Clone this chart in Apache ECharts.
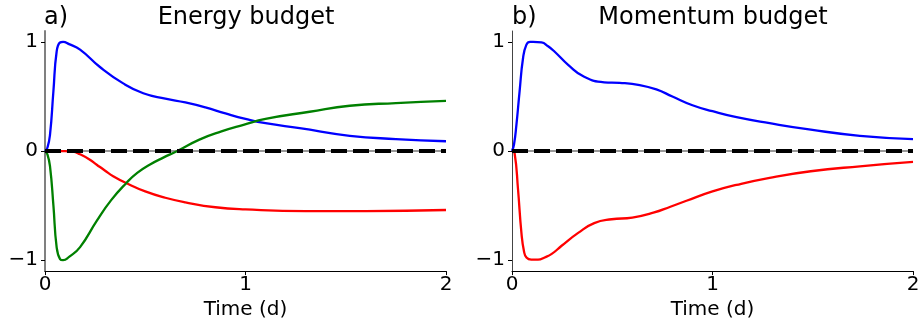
<!DOCTYPE html>
<html>
<head>
<meta charset="utf-8">
<script src="https://cdn.jsdelivr.net/npm/echarts@6/dist/echarts.min.js"></script>
<style>
  html, body { margin: 0; padding: 0; background: #fff; }
  #chart { width: 923px; height: 325px; }
</style>
</head>
<body>
<div id="chart"></div>
<script>
// Panel a) Energy budget — time in days, normalised terms
const energyBlueT  = [0, 0.012, 0.025, 0.042, 0.058, 0.075, 0.09, 0.12, 0.175, 0.274, 0.39, 0.49, 0.6, 0.7, 0.8, 0.9, 1.0, 1.1, 1.27, 1.52, 1.75, 2.0];
const energyBlueV  = [0, 0.03, 0.15, 0.55, 0.91, 0.995, 1.0, 0.98, 0.93, 0.77, 0.62, 0.53, 0.48, 0.445, 0.40, 0.345, 0.295, 0.255, 0.21, 0.14, 0.11, 0.09];
const energyRedT   = [0, 0.1, 0.14, 0.175, 0.22, 0.258, 0.3, 0.34, 0.407, 0.5, 0.6, 0.7, 0.85, 1.0, 1.3, 1.6, 2.0];
const energyRedV   = [0, 0, -0.005, -0.03, -0.075, -0.125, -0.18, -0.23, -0.295, -0.37, -0.428, -0.47, -0.515, -0.535, -0.55, -0.55, -0.54];
const energyGreenT = [0, 0.012, 0.025, 0.042, 0.058, 0.075, 0.09, 0.12, 0.175, 0.258, 0.33, 0.407, 0.46, 0.524, 0.59, 0.66, 0.77, 0.88, 0.99, 1.1, 1.32, 1.52, 1.75, 2.0];
const energyGreenV = [0, -0.03, -0.14, -0.5, -0.88, -0.99, -1.0, -0.97, -0.88, -0.64, -0.45, -0.29, -0.2, -0.123, -0.06, 0.0, 0.105, 0.18, 0.24, 0.295, 0.36, 0.415, 0.44, 0.46];

// Panel b) Momentum budget
const momBlueT = [0, 0.01, 0.022, 0.038, 0.055, 0.072, 0.09, 0.105, 0.147, 0.18, 0.213, 0.28, 0.36, 0.46, 0.537, 0.637, 0.72, 0.8, 0.9, 1.0, 1.12, 1.285, 1.49, 1.735, 2.0];
const momBlueV = [0, 0.06, 0.24, 0.55, 0.85, 0.975, 1.0, 1.0, 0.995, 0.96, 0.91, 0.79, 0.68, 0.63, 0.625, 0.605, 0.565, 0.50, 0.42, 0.365, 0.31, 0.255, 0.196, 0.14, 0.11];
const momRedT  = [0, 0.013, 0.03, 0.047, 0.06, 0.072, 0.096, 0.13, 0.163, 0.2, 0.246, 0.33, 0.41, 0.497, 0.6, 0.705, 0.79, 0.87, 1.0, 1.12, 1.285, 1.49, 1.735, 2.0];
const momRedV  = [0, -0.02, -0.35, -0.75, -0.92, -0.975, -0.995, -0.995, -0.975, -0.94, -0.87, -0.75, -0.66, -0.625, -0.61, -0.565, -0.51, -0.455, -0.37, -0.31, -0.245, -0.185, -0.14, -0.10];

// Zero reference line end points
const zeroT = [0, 2];
const zeroV = [0, 0];

const yTicks = [-1, 0, 1];
const xTicks = [0, 1, 2];

const FONT = 'DejaVu Sans';
const pairs = (t, v) => t.map((x, i) => [x, v[i]]);
const fmtY = v => (v < 0 ? '\u2212' + Math.abs(v) : String(v));

const chart = echarts.init(document.getElementById('chart'), null, { renderer: 'canvas' });

function xAxisFor(idx) {
  return {
    gridIndex: idx, type: 'value', min: xTicks[0], max: xTicks[xTicks.length - 1], interval: 1,
    axisLine: { show: true, onZero: false, lineStyle: { color: '#000', width: 1 } },
    axisTick: { show: true, length: 4, lineStyle: { color: '#000', width: 1 } },
    axisLabel: { fontFamily: FONT, fontSize: 20, color: '#000', margin: 4 },
    splitLine: { show: false },
    name: 'Time (d)', nameLocation: 'middle', nameGap: 24,
    nameTextStyle: { fontFamily: FONT, fontSize: 20, color: '#000' }
  };
}
function yAxisFor(idx, lineColor, lineWidth) {
  return {
    gridIndex: idx, type: 'value', min: -1.1, max: 1.1,
    axisLine: { show: true, onZero: false, lineStyle: { color: lineColor, width: lineWidth } },
    axisTick: { show: true, length: 4, customValues: yTicks, lineStyle: { color: '#000', width: 1 } },
    axisLabel: { fontFamily: FONT, fontSize: 20, color: '#000', margin: 7, customValues: yTicks, formatter: fmtY },
    splitLine: { show: false }
  };
}
function curve(idx, t, v, color) {
  return {
    type: 'line', xAxisIndex: idx, yAxisIndex: idx, data: pairs(t, v),
    showSymbol: false, smooth: 0.5,
    lineStyle: { color: color, width: 2.3 }, silent: true, animation: false
  };
}
function zeroLines(idx) {
  return [
    { type: 'line', xAxisIndex: idx, yAxisIndex: idx, data: pairs(zeroT, zeroV), showSymbol: false,
      lineStyle: { color: '#999', width: 2 }, silent: true, animation: false },
  ];
}
function dashedZero(idx) {
  return { type: 'line', xAxisIndex: idx, yAxisIndex: idx, data: pairs(zeroT, zeroV), showSymbol: false,
    lineStyle: { color: '#000', width: 4, type: [16, 6] }, silent: true, animation: false };
}

const titleText = (x, text, align) => ({
  type: 'text', x: x, y: 18,
  style: { text: text, font: '24px "' + FONT + '"', fill: '#000', textAlign: align, textVerticalAlign: 'middle' }
});

chart.setOption({
  animation: false,
  grid: [
    { left: 45, top: 31, width: 401, height: 241 },
    { left: 512, top: 31, width: 401, height: 241 }
  ],
  xAxis: [xAxisFor(0), xAxisFor(1)],
  yAxis: [yAxisFor(0, '#808080', 2), yAxisFor(1, '#444', 1)],
  series: [
    ...zeroLines(0),
    curve(0, energyBlueT, energyBlueV, '#0000ff'),
    curve(0, energyRedT, energyRedV, '#ff0000'),
    curve(0, energyGreenT, energyGreenV, '#008000'),
    dashedZero(0),
    ...zeroLines(1),
    curve(1, momBlueT, momBlueV, '#0000ff'),
    curve(1, momRedT, momRedV, '#ff0000'),
    dashedZero(1)
  ],
  graphic: [
    titleText(44, 'a)', 'left'),
    titleText(246, 'Energy budget', 'center'),
    titleText(512, 'b)', 'left'),
    titleText(713, 'Momentum budget', 'center')
  ]
});
</script>
</body>
</html>
